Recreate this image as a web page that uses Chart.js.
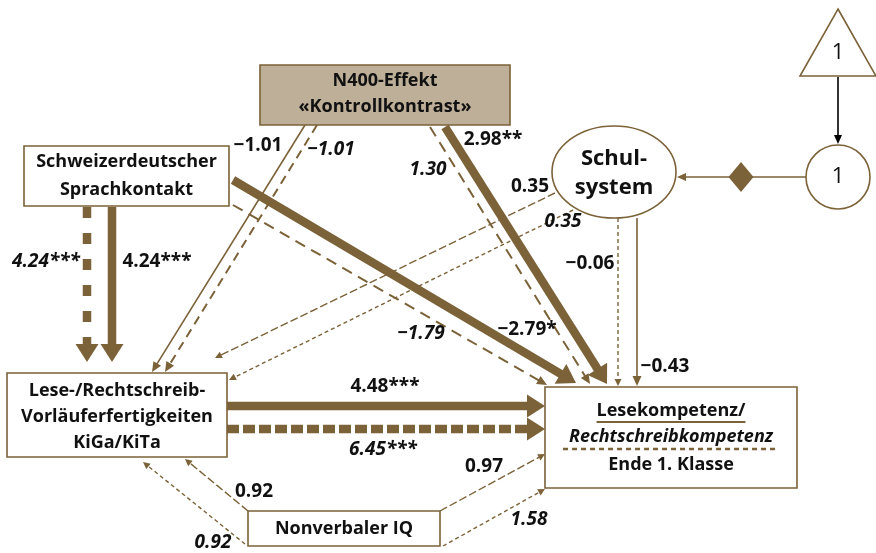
<!DOCTYPE html>
<html>
<head>
<meta charset="utf-8">
<script src="https://cdn.jsdelivr.net/npm/chart.js@4.4.1/dist/chart.umd.min.js"></script>
<style>
  html, body { margin: 0; padding: 0; background: #fff; }
  #wrap { width: 876px; height: 553px; }
</style>
</head>
<body>
<div id="wrap"><canvas id="diagram"></canvas></div>
<script>
// path model: solid = Lesen (L), dashed = Rechtschreiben (R)
const pathFrom  = ['schweiz', 'schweiz', 'n400', 'n400', 'n400', 'n400', 'schweiz', 'schweiz', 'schul', 'schul', 'schul', 'schul', 'vorl', 'vorl', 'iq', 'iq', 'iq', 'iq'];
const pathTo    = ['vorl', 'vorl', 'vorl', 'vorl', 'lesek', 'lesek', 'lesek', 'lesek', 'vorl', 'vorl', 'lesek', 'lesek', 'lesek', 'lesek', 'vorl', 'vorl', 'lesek', 'lesek'];
const pathModel = ['R', 'L', 'L', 'R', 'L', 'R', 'L', 'R', 'L', 'R', 'L', 'R', 'L', 'R', 'L', 'R', 'L', 'R'];
const pathCoef  = [4.24, 4.24, -1.01, -1.01, 2.98, 1.30, -2.79, -1.79, 0.35, 0.35, -0.43, -0.06, 4.48, 6.45, 0.92, 0.92, 0.97, 1.58];
const pathStars = ['***', '***', '', '', '**', '', '*', '', '', '', '', '', '***', '***', '', '', '', ''];

const nodeKeys  = ['n400', 'schweiz', 'vorl', 'lesek', 'iq', 'schul', 'one', 'tri'];
const nodeText  = [
    ['N400-Effekt', '«Kontrollkontrast»'],
    ['Schweizerdeutscher', 'Sprachkontakt'],
    ['Lese-/Rechtschreib-', 'Vorläuferfertigkeiten', 'KiGa/KiTa'],
    ['Lesekompetenz/', 'Rechtschreibkompetenz', 'Ende 1. Klasse'],
    ['Nonverbaler IQ'],
    ['Schul-', 'system'],
    ['1'],
    ['1']
];

const BROWN = '#7b6238';
const TAN = '#bdaf98';
const FONT = '"Open Sans", "Noto Sans", sans-serif';

// layout of the drawing (diagram units = pixels of the original)
const nodeBox = {
    n400:    { kind: 'rect', x: 260, y: 65, w: 250, h: 60, fill: TAN, lines: [81, 107] },
    schweiz: { kind: 'rect', x: 24, y: 146, w: 205, h: 60, lines: [162, 190] },
    vorl:    { kind: 'rect', x: 7, y: 373, w: 220, h: 84, lines: [391, 417, 443] },
    lesek:   { kind: 'rect', x: 545, y: 387, w: 252, h: 101, lines: [411, 437, 465] },
    iq:      { kind: 'rect', x: 248, y: 511, w: 192, h: 35, lines: [529] },
    schul:   { kind: 'ellipse', cx: 614, cy: 172, rx: 62, ry: 46, lines: [159, 188], size: 22 },
    one:     { kind: 'circle', cx: 838, cy: 177, r: 32, lines: [177], size: 22, weight: 400 },
    tri:     { kind: 'triangle', cx: 838, top: 9, base: 76, half: 38, lines: [53], size: 22, weight: 400 }
};

const pathGeom = [
    { a: [87, 207], b: [87, 362], lab: [46, 262], dash: [11, 15] },
    { a: [112, 207], b: [112, 362], lab: [157, 262] },
    { a: [305, 125], b: [152, 372], lab: [258, 146] },
    { a: [317, 125], b: [165, 372], lab: [331, 150], dash: [9, 6] },
    { a: [445, 127], b: [607, 384], lab: [493, 140] },
    { a: [430, 127], b: [590, 384], lab: [428, 170], dash: [11, 7] },
    { a: [233, 180], b: [576, 383], lab: [527, 330] },
    { a: [233, 205], b: [547, 385], lab: [421, 334], dash: [11, 7] },
    { a: [555, 193], b: [215, 358], lab: [530, 187], dash: [8, 3] },
    { a: [573, 210], b: [229, 380], lab: [563, 222], dash: [4, 3] },
    { a: [637, 218], b: [637, 386], lab: [665, 367] },
    { a: [618, 218], b: [618, 386], lab: [590, 264], dash: [4, 3], upright: true },
    { a: [227, 406], b: [545, 406], lab: [385, 387] },
    { a: [227, 429], b: [545, 429], lab: [383, 450], dash: [12, 4] },
    { a: [248, 511], b: [185, 459], lab: [254, 492], dash: [8, 3] },
    { a: [245, 544], b: [143, 462], lab: [213, 543], dash: [4, 3] },
    { a: [440, 511], b: [545, 454], lab: [484, 467], dash: [8, 3] },
    { a: [443, 546], b: [545, 489], lab: [529, 520], dash: [4, 3] }
];

const isThick = i => pathStars[i] !== '';
const headSize = i => {
    if (isThick(i)) return [18, 11.5];
    return pathGeom[i].dash && pathGeom[i].dash[0] < 9 ? [7, 3.5] : [10, 4.5];
};
const lineWidth = i => {
    const d = pathGeom[i].dash;
    if (isThick(i)) return 8.5;
    if (!d) return 1.6;
    return d[0] >= 9 ? 2 : 1.4;
};

// line stops at the base of the arrow head
const shortEnd = (a, b, len) => {
    const dx = b[0] - a[0], dy = b[1] - a[1];
    const d = Math.hypot(dx, dy);
    return [b[0] - dx / d * len * 0.8, b[1] - dy / d * len * 0.8];
};

const datasets = pathGeom.map((g, i) => {
    const end = shortEnd(g.a, g.b, headSize(i)[0]);
    return {
        label: pathFrom[i] + '→' + pathTo[i] + ' ' + pathModel[i],
        data: [{ x: g.a[0], y: g.a[1] }, { x: end[0], y: end[1] }],
        showLine: true,
        borderColor: BROWN,
        borderWidth: lineWidth(i),
        borderDash: g.dash || [],
        borderCapStyle: 'butt',
        pointRadius: 0,
        clip: false
    };
});

// Schulsystem fed by the constant 1
datasets.push({
    label: 'one→schul',
    data: [{ x: 806, y: 177 }, { x: 684, y: 177 }],
    showLine: true, borderColor: BROWN, borderWidth: 1.6, pointRadius: 0, clip: false
});
datasets.push({
    label: 'tri→one',
    data: [{ x: 838, y: 77 }, { x: 838, y: 138 }],
    showLine: true, borderColor: '#000', borderWidth: 1.6, pointRadius: 0, clip: false
});

const fmt = v => (v < 0 ? '\u2212' : '') + Math.abs(v).toFixed(2);

const drawHead = (ctx, ax, ay, bx, by, len, half, color) => {
    const ang = Math.atan2(by - ay, bx - ax);
    ctx.save();
    ctx.translate(bx, by);
    ctx.rotate(ang);
    ctx.beginPath();
    ctx.moveTo(0, 0);
    ctx.lineTo(-len, -half);
    ctx.lineTo(-len, half);
    ctx.closePath();
    ctx.fillStyle = color;
    ctx.fill();
    ctx.restore();
};

const diagramPlugin = {
    id: 'diagram',
    afterDatasetsDraw(chart) {
        const { ctx, scales } = chart;
        const X = v => scales.x.getPixelForValue(v);
        const Y = v => scales.y.getPixelForValue(v);

        ctx.save();
        ctx.textAlign = 'center';
        ctx.textBaseline = 'middle';

        // nodes
        nodeKeys.forEach((k, n) => {
            const b = nodeBox[k];
            ctx.strokeStyle = BROWN;
            ctx.lineWidth = 1.6;
            ctx.fillStyle = b.fill || '#fff';
            ctx.beginPath();
            if (b.kind === 'rect') {
                ctx.rect(X(b.x), Y(b.y), X(b.x + b.w) - X(b.x), Y(b.y + b.h) - Y(b.y));
            } else if (b.kind === 'ellipse') {
                ctx.ellipse(X(b.cx), Y(b.cy), b.rx, b.ry, 0, 0, Math.PI * 2);
            } else if (b.kind === 'circle') {
                ctx.arc(X(b.cx), Y(b.cy), b.r, 0, Math.PI * 2);
            } else {
                ctx.moveTo(X(b.cx), Y(b.top));
                ctx.lineTo(X(b.cx + b.half), Y(b.base));
                ctx.lineTo(X(b.cx - b.half), Y(b.base));
                ctx.closePath();
            }
            ctx.fill();
            ctx.stroke();

            nodeText[n].forEach((t, j) => {
                const italic = k === 'lesek' && j === 1 ? 'italic ' : '';
                ctx.font = italic + (b.weight || 700) + ' ' + (b.size || 18) + 'px ' + FONT;
                ctx.fillStyle = '#111';
                const cx = b.kind === 'rect' ? X(b.x + b.w / 2) : X(b.cx);
                ctx.fillText(t, cx, Y(b.lines[j]));
            });
        });

        // underline marks for the two outcomes
        const lk = nodeBox.lesek;
        const mid = X(lk.x + lk.w / 2);
        ctx.font = '700 18px ' + FONT;
        const w1 = ctx.measureText(nodeText[3][0]).width;
        ctx.font = 'italic 700 18px ' + FONT;
        const w2 = ctx.measureText(nodeText[3][1]).width + 12;
        ctx.strokeStyle = BROWN;
        ctx.lineWidth = 2;
        ctx.beginPath();
        ctx.moveTo(mid - w1 / 2, Y(422));
        ctx.lineTo(mid + w1 / 2, Y(422));
        ctx.stroke();
        ctx.lineWidth = 2.5;
        ctx.setLineDash([5, 4]);
        ctx.beginPath();
        ctx.moveTo(mid - w2 / 2, Y(449));
        ctx.lineTo(mid + w2 / 2, Y(449));
        ctx.stroke();
        ctx.setLineDash([]);

        // arrow heads
        pathGeom.forEach((g, i) => {
            const [len, half] = headSize(i);
            drawHead(ctx, X(g.a[0]), Y(g.a[1]), X(g.b[0]), Y(g.b[1]), len, half, BROWN);
        });
        drawHead(ctx, X(806), Y(177), X(677), Y(177), 9, 4, BROWN);
        drawHead(ctx, X(838), Y(77), X(838), Y(144), 9, 4, '#000');

        // diamond on the constant path
        ctx.fillStyle = BROWN;
        ctx.beginPath();
        ctx.moveTo(X(741), Y(162));
        ctx.lineTo(X(753.5), Y(177));
        ctx.lineTo(X(741), Y(192));
        ctx.lineTo(X(728.5), Y(177));
        ctx.closePath();
        ctx.fill();

        // coefficients
        pathGeom.forEach((g, i) => {
            const italic = pathModel[i] === 'R' && !g.upright ? 'italic ' : '';
            ctx.font = italic + '700 19px ' + FONT;
            ctx.fillStyle = '#111';
            ctx.fillText(fmt(pathCoef[i]) + pathStars[i], X(g.lab[0]), Y(g.lab[1]));
        });

        ctx.restore();
    }
};

new Chart(document.getElementById('diagram'), {
    type: 'scatter',
    data: { datasets },
    options: {
        responsive: true,
        maintainAspectRatio: false,
        animation: false,
        layout: { padding: 0 },
        plugins: { legend: { display: false }, tooltip: { enabled: false } },
        scales: {
            x: { type: 'linear', min: 0, max: 876, display: false },
            y: { type: 'linear', min: 0, max: 553, reverse: true, display: false }
        }
    },
    plugins: [diagramPlugin]
});
</script>
</body>
</html>
